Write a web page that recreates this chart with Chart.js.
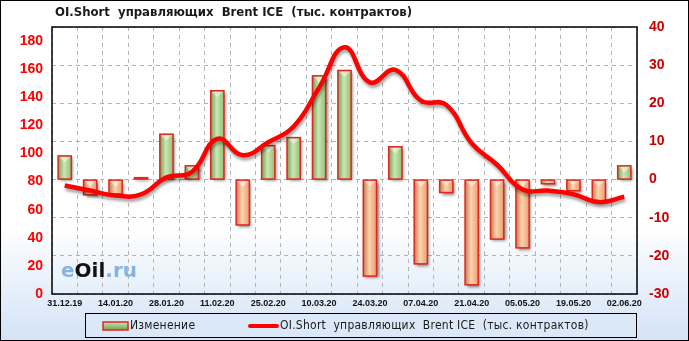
<!DOCTYPE html>
<html>
<head>
<meta charset="utf-8">
<script src="https://cdn.jsdelivr.net/npm/chart.js@4.4.1/dist/chart.umd.min.js"></script>
<style>
  html, body { margin: 0; padding: 0; background: #fff; }
  #wrap { width: 689px; height: 341px; }
</style>
</head>
<body>
<div id="wrap"><canvas id="chart" width="689" height="341"></canvas></div>
<script>
// weekly report dates (CFTC / ICE)
const dates = [
  '31.12.19', '07.01.20', '14.01.20', '21.01.20', '28.01.20', '04.02.20',
  '11.02.20', '18.02.20', '25.02.20', '03.03.20', '10.03.20', '17.03.20',
  '24.03.20', '31.03.20', '07.04.20', '14.04.20', '21.04.20', '28.04.20',
  '05.05.20', '12.05.20', '19.05.20', '26.05.20', '02.06.20'
];
// weekly change, right axis
const changes = [
  6.2, -4.0, -3.8, 0.5, 11.9, 3.6, 23.3, -11.9, 8.9, 11.0, 27.2, 28.6,
  -25.3, 8.6, -22.1, -3.4, -27.6, -15.6, -17.9, -1.1, -2.9, -6.0, 3.6
];
// OI.Short level, left axis
const shortOI = [
  77.2, 73.6, 70.1, 70.9, 83.0, 86.8, 110.4, 98.8, 108.0, 119.2, 146.8, 175.6,
  150.6, 159.5, 137.7, 134.6, 107.3, 92.0, 74.4, 73.6, 71.0, 65.4, 69.2
];

const titleText = 'OI.Short  управляющих  Brent ICE  (тыс. контрактов)';
const barLabel  = 'Изменение';
const lineLabel = 'OI.Short  управляющих  Brent ICE  (тыс. контрактов)';

const C = {
  red:      '#ff0000',
  darkRed:  '#cc0000',
  barEdge:  '#e3261c',
  grid:     '#b4b4b4',
  green:    ['#74a057', '#c9e7b2', '#93bf76'],
  orange:   ['#c47d55', '#ffd2ac', '#e79f72'],
  legendBg: '#dbe8f8',
};

/* ─── decoration: background, title, watermark, frames, legend ─── */
const decor = {
  id: 'decor',
  beforeDraw(chart) {
    const {ctx, width, height} = chart;
    ctx.save();
    const g = ctx.createLinearGradient(0, 0, 0, height);
    g.addColorStop(0, '#ffffff');
    g.addColorStop(0.66, '#ffffff');
    g.addColorStop(1, '#d3e3f6');
    ctx.fillStyle = g;
    ctx.fillRect(0, 0, width, height);

    ctx.font = 'bold 13px "DejaVu Sans Condensed"';
    ctx.fillStyle = '#1a1a1a';
    ctx.textBaseline = 'middle';
    ctx.fillText(titleText, 55, 13);
    ctx.restore();
  },
  beforeDatasetsDraw(chart) {
    const {ctx, chartArea: a} = chart;
    ctx.save();
    ctx.font = 'bold 20px "DejaVu Sans"';
    ctx.textBaseline = 'alphabetic';
    let x = a.left + 9;
    const y = a.bottom - 17;
    ctx.fillStyle = '#86b4df';
    ctx.fillText('e', x, y);
    x += ctx.measureText('e').width;
    ctx.fillStyle = '#111';
    ctx.fillText('Oil', x, y);
    x += ctx.measureText('Oil').width;
    ctx.fillStyle = '#86b4df';
    ctx.fillText('.ru', x, y);
    ctx.restore();
  },
  afterDatasetsDraw(chart) {
    const {ctx, chartArea: a} = chart;
    ctx.save();
    ctx.strokeStyle = '#000';
    ctx.lineWidth = 1.5;
    ctx.strokeRect(a.left, a.top, a.right - a.left, a.bottom - a.top);
    ctx.restore();
  },
  afterDraw(chart) {
    const {ctx, width, height} = chart;
    const ds = chart.data.datasets;
    ctx.save();
    // legend box
    ctx.fillStyle = C.legendBg;
    ctx.fillRect(85.5, 313.5, 551, 24);
    ctx.strokeStyle = '#000';
    ctx.lineWidth = 1;
    ctx.strokeRect(85.5, 313.5, 551, 24);

    ctx.font = '12px "DejaVu Sans Condensed"';
    ctx.letterSpacing = '0.25px';
    ctx.fillStyle = '#1a1a1a';
    ctx.textBaseline = 'middle';
    const cy = 326;
    // bar item
    const g = ctx.createLinearGradient(0, cy - 4, 0, cy + 4);
    g.addColorStop(0, C.green[1]);
    g.addColorStop(1, C.green[0]);
    ctx.fillStyle = g;
    ctx.fillRect(103, cy - 4, 25, 8);
    ctx.strokeStyle = C.barEdge;
    ctx.lineWidth = 1.5;
    ctx.strokeRect(103, cy - 4, 25, 8);
    ctx.fillStyle = '#1a1a1a';
    ctx.fillText(ds[0].label, 130, cy);
    // line item
    ctx.strokeStyle = C.red;
    ctx.lineWidth = 4;
    ctx.lineCap = 'round';
    ctx.beginPath();
    ctx.moveTo(250, cy);
    ctx.lineTo(277, cy);
    ctx.stroke();
    ctx.fillText(ds[1].label, 280, cy);

    // outer border
    ctx.strokeStyle = '#000';
    ctx.lineWidth = 1;
    ctx.strokeRect(0.5, 0.5, width - 1, height - 1);
    ctx.restore();
  }
};

/* ─── 3D-ish bars with shadow, shadow under the line ─── */
const shading = {
  id: 'shading',
  beforeDatasetDraw(chart, args) {
    const ctx = chart.ctx;
    if (args.meta.type === 'line') {
      ctx.save();
      ctx.shadowColor = 'rgba(0,0,0,0.35)';
      ctx.shadowBlur = 3;
      ctx.shadowOffsetX = 1;
      ctx.shadowOffsetY = 3;
      return;
    }
    ctx.save();
    args.meta.data.forEach((bar, i) => {
      const {x, y, base, width} = bar.getProps(['x', 'y', 'base', 'width'], true);
      const col = changes[i] >= 0 ? C.green : C.orange;
      const left = x - width / 2;
      const top = Math.min(y, base);
      const h = Math.abs(base - y);
      const g = ctx.createLinearGradient(left, 0, left + width, 0);
      g.addColorStop(0, col[0]);
      g.addColorStop(0.45, col[1]);
      g.addColorStop(1, col[2]);
      ctx.shadowColor = 'rgba(0,0,0,0.5)';
      ctx.shadowBlur = 3;
      ctx.shadowOffsetX = 2;
      ctx.shadowOffsetY = 2;
      ctx.fillStyle = g;
      ctx.fillRect(left, top, width, h);
      ctx.shadowColor = 'transparent';
      if (h > 6) {
        // lighter bevel at the top end
        ctx.fillStyle = 'rgba(255,255,255,0.45)';
        ctx.beginPath();
        ctx.moveTo(left + 1, top + 1);
        ctx.lineTo(left + width - 1, top + 1);
        ctx.lineTo(x, top + Math.min(width / 2, h / 2));
        ctx.closePath();
        ctx.fill();
      }
      ctx.strokeStyle = C.barEdge;
      ctx.lineWidth = 1.5;
      ctx.strokeRect(left, top, width, h);
    });
    ctx.restore();
    return false;
  },
  afterDatasetDraw(chart, args) {
    if (args.meta.type === 'line') chart.ctx.restore();
  }
};

const gridDash = { display: false, dash: [4, 4] };

new Chart(document.getElementById('chart'), {
  data: {
    labels: dates,
    datasets: [
      {
        type: 'bar',
        label: barLabel,
        data: changes,
        yAxisID: 'yR',
        backgroundColor: C.green[1],
        borderColor: C.barEdge,
        borderWidth: 1.5,
        categoryPercentage: 1,
        barPercentage: 0.52,
        order: 1,
      },
      {
        type: 'line',
        label: lineLabel,
        data: shortOI,
        yAxisID: 'yL',
        borderColor: C.red,
        backgroundColor: C.red,
        borderWidth: 4.5,
        pointRadius: 0,
        tension: 0.45,
        order: 0,
      }
    ]
  },
  options: {
    responsive: false,
    animation: false,
    devicePixelRatio: 1,
    layout: { padding: { left: 0, right: 0, top: 27, bottom: 0 } },
    plugins: {
      legend: { display: false },
      title: { display: false },
      tooltip: { enabled: false },
    },
    scales: {
      x: {
        offset: true,
        grid: { offset: true, color: C.grid, drawTicks: false },
        border: gridDash,
        afterFit: s => { s.height = 47; },
        ticks: {
          autoSkip: false, maxRotation: 0, padding: 4,
          color: '#111',
          font: { family: 'Liberation Sans', weight: 'bold', size: 9 },
          callback: (v, i) => i % 2 === 0 ? dates[i] : '',
        }
      },
      yL: {
        position: 'left',
        min: 0, max: 190,
        grid: { display: false, drawTicks: false },
        border: { display: false },
        afterFit: s => { s.width = 52; },
        ticks: {
          stepSize: 20, includeBounds: false, padding: 9,
          color: C.red,
          font: { family: 'Liberation Sans', weight: 'bold', size: 14 },
        }
      },
      yR: {
        position: 'right',
        min: -30, max: 40,
        grid: { color: C.grid, drawTicks: false },
        border: gridDash,
        afterFit: s => { s.width = 52; },
        ticks: {
          stepSize: 5, padding: 12,
          color: C.darkRed,
          font: { family: 'Liberation Sans', weight: 'bold', size: 14 },
          callback: v => v % 10 === 0 ? v : '',
        }
      }
    }
  },
  plugins: [decor, shading]
});
</script>
</body>
</html>
